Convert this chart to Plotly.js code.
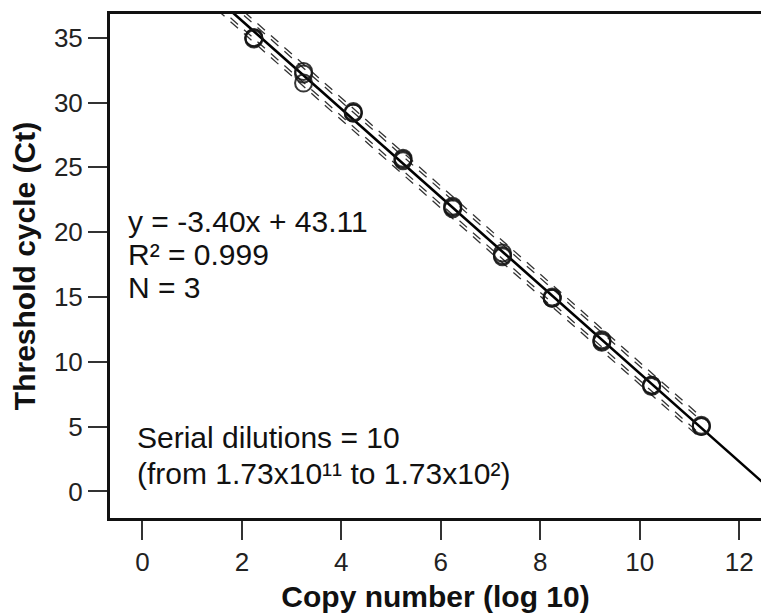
<!DOCTYPE html>
<html>
<head>
<meta charset="utf-8">
<script src="https://cdn.plot.ly/plotly-3.0.1.min.js"></script>
<style>html,body{margin:0;padding:0;background:#fff;overflow:hidden;}</style>
</head>
<body>
<div id="chart" style="width:761px;height:614px;"></div>
<script>
// Log10 copy number for each replicate measurement
const copyLog = [2.24,2.24,2.24, 3.24,3.24,3.24, 4.24,4.24,4.24, 5.24,5.24,5.24, 6.24,6.24,6.24,
                 7.24,7.24,7.24, 8.24,8.24,8.24, 9.24,9.24,9.24, 10.24,10.24,10.24, 11.24,11.24,11.24];
// Threshold cycle values (3 replicates per dilution)
const ctValues = [35.0,35.0,34.9, 32.4,32.2,31.5, 29.2,29.3,29.2, 25.7,25.5,25.6, 21.9,21.8,22.0,
                  18.4,18.1,18.2, 14.9,14.9,15.0, 11.6,11.7,11.5, 8.2,8.1,8.2, 5.0,5.0,5.1];
// Fitted regression line y = -3.40x + 43.11
const fitSlope = -3.40;
const fitIntercept = 43.11;
const fitX = [1.5, 12.6];
// Dashed interval bands (read as vertical offsets from the fit line)
const bandX = [1.5, 11.24];
const bandOffsets = [0.55, 0.85];

const xTicks = [0, 2, 4, 6, 8, 10, 12];
const yTicks = [0, 5, 10, 15, 20, 25, 30, 35];

const fitY = fitX.map(x => fitSlope * x + fitIntercept);

const traces = [];
bandOffsets.forEach(off => {
  [1, -1].forEach(sign => {
    traces.push({
      x: bandX,
      y: bandX.map(x => fitSlope * x + fitIntercept + sign * off),
      mode: 'lines',
      line: {color: '#333', width: 1.3, dash: '10px,8px'},
      hoverinfo: 'skip', showlegend: false
    });
  });
});
traces.push({
  x: fitX, y: fitY, mode: 'lines',
  line: {color: '#000', width: 2.6},
  showlegend: false
});
traces.push({
  x: copyLog, y: ctValues, mode: 'markers',
  marker: {symbol: 'circle-open', size: 17, color: 'rgba(20,20,20,0.85)', line: {width: 2}},
  showlegend: false
});

const fam = 'Arial, Liberation Sans, sans-serif';
const txtFont = {family: fam, size: 30, color: '#111'};
const layout = {
  width: 761, height: 614,
  margin: {l: 110, r: 0, t: 14, b: 96},
  paper_bgcolor: '#fff', plot_bgcolor: '#fff',
  font: {family: fam, color: '#222'},
  xaxis: {
    range: [-0.653, 12.44],
    tickvals: xTicks,
    showgrid: false, zeroline: false,
    showline: true, linewidth: 3, linecolor: '#111', mirror: true,
    ticks: 'outside', ticklen: 19, tickwidth: 2, tickcolor: '#333',
    tickfont: {size: 26, color: '#222'},
    title: {text: '<b>Copy number (log 10)</b>', font: {size: 30, color: '#111'}, standoff: 10}
  },
  yaxis: {
    range: [-2.05, 36.83],
    tickvals: yTicks,
    showgrid: false, zeroline: false,
    showline: true, linewidth: 3, linecolor: '#111', mirror: false,
    ticks: 'outside', ticklen: 19, tickwidth: 2, tickcolor: '#333',
    tickfont: {size: 26, color: '#222'},
    title: {text: '<b>Threshold cycle (Ct)</b>', font: {size: 30, color: '#111'}, standoff: 10}
  },
  annotations: [
    {xref: 'paper', yref: 'paper', x: 0.025, y: 0.588, xanchor: 'left', yanchor: 'middle', showarrow: false,
     text: 'y = -3.40x + 43.11', font: txtFont},
    {xref: 'paper', yref: 'paper', x: 0.025, y: 0.523, xanchor: 'left', yanchor: 'middle', showarrow: false,
     text: 'R\u00B2 = 0.999', font: txtFont},
    {xref: 'paper', yref: 'paper', x: 0.025, y: 0.458, xanchor: 'left', yanchor: 'middle', showarrow: false,
     text: 'N = 3', font: txtFont},
    {xref: 'paper', yref: 'paper', x: 0.039, y: 0.160, xanchor: 'left', yanchor: 'middle', showarrow: false,
     text: 'Serial dilutions = 10', font: txtFont},
    {xref: 'paper', yref: 'paper', x: 0.039, y: 0.088, xanchor: 'left', yanchor: 'middle', showarrow: false,
     text: '(from 1.73x10\u00B9\u00B9 to 1.73x10\u00B2)', font: txtFont}
  ]
};
Plotly.newPlot('chart', traces, layout, {displayModeBar: false, staticPlot: true});
</script>
</body>
</html>
